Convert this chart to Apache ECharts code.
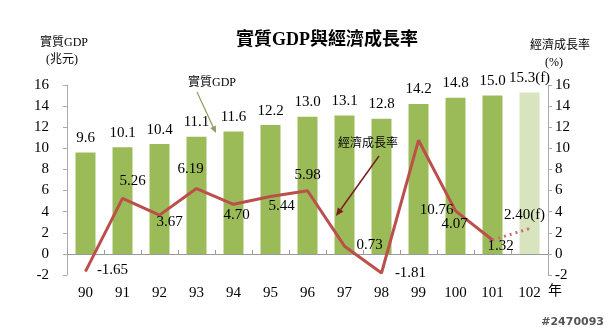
<!DOCTYPE html>
<html><head><meta charset="utf-8">
<script src="https://cdn.jsdelivr.net/npm/echarts@6/dist/echarts.min.js"></script>
<style>html,body{margin:0;padding:0;background:#fff;}#c{width:608px;height:331px;}</style>
</head><body><div id="c"></div>
<script>
const years = ['90','91','92','93','94','95','96','97','98','99','100','101','102'];
const gdp = [9.6, 10.1, 10.4, 11.1, 11.6, 12.2, 13.0, 13.1, 12.8, 14.2, 14.8, 15.0, 15.3];
const growth = [-1.65, 5.26, 3.67, 6.19, 4.70, 5.44, 5.98, 0.73, -1.81, 10.76, 4.07, 1.32, 2.40];
const forecastIndex = 12;

const labelOffsets = [[27,-1],[10,-17],[10,7],[-6,-19],[3,11],[11,10],[0,-16],[25,-1],[29,0],[18,70],[-1,13],[8,6],[-5,-13]];

const serif = '"Liberation Serif","Times New Roman","Noto Sans CJK TC",serif';
const cjk = '"Liberation Serif","Noto Sans CJK TC",serif';

const barData = gdp.map((v,i)=>({value:v, itemStyle:{color: i===forecastIndex ? '#D7E4BD' : '#9BBB59'}}));
const solidLine = growth.map((v,i)=> i===forecastIndex ? '-' : {value:v, label:{offset:labelOffsets[i]}});
const dotLine = growth.map((v,i)=> i>=forecastIndex-1 ? (i===forecastIndex ? {value:v, label:{show:true, offset:labelOffsets[i]}} : {value:v, label:{show:false}}) : '-');

function arrow(x1,y1,x2,y2,color,w,hl,hw){
  const dx=x2-x1, dy=y2-y1, L=Math.hypot(dx,dy), ux=dx/L, uy=dy/L;
  const bx=x2-ux*hl, by=y2-uy*hl;
  return [
    {type:'line', z:100, shape:{x1,y1,x2:bx,y2:by}, style:{stroke:color, lineWidth:w}},
    {type:'polygon', z:100, shape:{points:[[x2,y2],[bx-uy*hw,by+ux*hw],[bx+uy*hw,by-ux*hw]]}, style:{fill:color}}
  ];
}

const chart = echarts.init(document.getElementById('c'));
chart.setOption({
  animation:false,
  backgroundColor:'#fff',
  title:{text:'實質GDP與經濟成長率', left:322, top:26, textAlign:'center',
    textStyle:{fontFamily:cjk, fontSize:18, fontWeight:'bold', color:'#000'}},
  grid:{left:67, right:60, top:85, bottom:56},
  xAxis:[
    {type:'category', data:years, position:'bottom',
     axisLine:{show:false, onZero:false}, axisTick:{show:false},
     axisLabel:{fontFamily:serif, fontSize:15, color:'#000', margin:11}},
    {type:'category', data:years, position:'bottom', gridIndex:0,
     axisLine:{show:true, onZero:true, lineStyle:{color:'#999', width:1}},
     axisTick:{show:true, inside:true, length:4, lineStyle:{color:'#999'}},
     axisLabel:{show:false}}
  ],
  yAxis:[
    {type:'value', min:-2, max:16, interval:2,
     axisLine:{show:true, lineStyle:{color:'#aaa'}},
     axisTick:{show:true, length:4, lineStyle:{color:'#aaa'}},
     splitLine:{show:false},
     axisLabel:{fontFamily:serif, fontSize:15, color:'#000', margin:18}},
    {type:'value', min:-2, max:16, interval:2, position:'right',
     axisLine:{show:true, lineStyle:{color:'#aaa'}},
     axisTick:{show:true, length:4, lineStyle:{color:'#aaa'}},
     splitLine:{show:false},
     axisLabel:{fontFamily:serif, fontSize:15, color:'#000', margin:7}}
  ],
  series:[
    {type:'bar', data:barData, barWidth:20, xAxisIndex:0, yAxisIndex:0, z:1,
     label:{show:true, position:'top', distance:7, fontFamily:serif, fontSize:15, color:'#000',
       formatter:p=> p.value.toFixed(1) + (p.dataIndex===forecastIndex ? '(f)' : '')}},
    {type:'line', data:solidLine, xAxisIndex:0, yAxisIndex:1, z:3,
     symbol:'circle', symbolSize:1, lineStyle:{color:'#BC4F4B', width:3}, itemStyle:{color:'#BC4F4B'},
     label:{show:true, position:'inside', fontFamily:serif, fontSize:15, color:'#000',
       formatter:p=> p.value.toFixed(2)}},
    {type:'line', data:dotLine, xAxisIndex:0, yAxisIndex:1, z:3,
     symbol:'circle', symbolSize:1, lineStyle:{color:'#C9706C', width:3, type:[2,4]}, itemStyle:{color:'#C9706C'},
     label:{position:'inside', fontFamily:serif, fontSize:15, color:'#000',
       formatter:p=> p.value.toFixed(2) + '(f)'}}
  ],
  graphic:[
    {type:'text', z:100, left:40, top:34, style:{text:'實質GDP\n  (兆元)', font:'12px '+cjk, fill:'#000', lineHeight:17}},
    {type:'text', z:100, left:530, top:37, style:{text:'經濟成長率\n     (%)', font:'12px '+cjk, fill:'#000', lineHeight:17}},
    {type:'text', z:100, left:548, top:284, style:{text:'年', font:'14px '+cjk, fill:'#000'}},
    {type:'text', z:100, left:188, top:77, style:{text:'實質GDP', font:'12px '+cjk, fill:'#000'}},
    {type:'text', z:100, left:338, top:138, style:{text:'經濟成長率', font:'12px '+cjk, fill:'#000'}},
    ...arrow(197,92,216,133,'#8E9B5E',1.2,7,3),
    ...arrow(379,156,336,216,'#7A1F1F',1.5,8,3.5),
    {type:'text', z:100, right:4, bottom:3, style:{text:'#2470093', font:'bold 11px "DejaVu Sans",sans-serif', fill:'#555'}}
  ]
});
</script></body></html>
